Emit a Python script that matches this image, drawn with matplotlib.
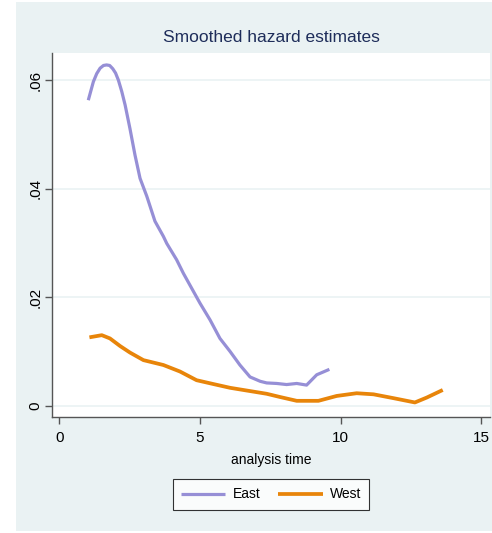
import matplotlib
matplotlib.use("Agg")
import matplotlib.pyplot as plt
from matplotlib.patches import Rectangle

plt.rcParams['font.family'] = ['Liberation Sans Narrow', 'Liberation Sans', 'DejaVu Sans']

east_t = [1.03, 1.21, 1.33, 1.45, 1.57, 1.68, 1.79, 1.90, 2.00, 2.10, 2.22, 2.34, 2.51, 2.69,
          2.87, 3.11, 3.40, 3.70, 3.82, 4.17, 4.41, 4.71, 5.00, 5.36, 5.71, 6.07, 6.42, 6.78,
          7.14, 7.37, 7.73, 8.08, 8.44, 8.79, 9.15, 9.60]
east_h = [0.0563, 0.0597, 0.0612, 0.0622, 0.0627, 0.0628, 0.0627, 0.0621, 0.0613, 0.0600,
          0.0579, 0.0554, 0.0511, 0.0462, 0.0419, 0.0386, 0.0340, 0.0312, 0.0299, 0.0269,
          0.0244, 0.0216, 0.0189, 0.0158, 0.0124, 0.0100, 0.0075, 0.0053, 0.0045, 0.0042,
          0.0041, 0.0039, 0.0041, 0.0038, 0.0057, 0.0067]

west_t = [1.07, 1.51, 1.80, 2.16, 2.51, 2.99, 3.70, 4.29, 4.88, 5.47, 6.07, 6.66, 7.37,
          7.85, 8.44, 9.21, 9.86, 10.57, 11.17, 11.87, 12.64, 13.06, 13.63]
west_h = [0.0126, 0.0130, 0.0124, 0.0110, 0.0098, 0.0084, 0.0075, 0.0063, 0.0047, 0.0040,
          0.0033, 0.0028, 0.0022, 0.0016, 0.0009, 0.0009, 0.0018, 0.0023, 0.0021, 0.0014,
          0.0006, 0.0015, 0.0029]

x_ticks = [0, 5, 10, 15]
x_tick_labels = ['0', '5', '10', '15']
y_ticks = [0, 0.02, 0.04, 0.06]
y_tick_labels = ['0', '.02', '.04', '.06']

W, H = 492, 533
fig = plt.figure(figsize=(W / 100, H / 100), dpi=100, facecolor='white')
bg = '#EAF2F3'
fig.patches.append(Rectangle((16 / W, 2 / H), (W - 16) / W, (531 - 2) / H,
                             transform=fig.transFigure, facecolor=bg, edgecolor='none', zorder=-10))

ax = fig.add_axes([52 / W, (H - 417) / H, 438 / W, 364 / H])
ax.set_facecolor('white')
ax.plot(east_t, east_h, color='#968FD6', lw=2.3, label='East', solid_capstyle='butt')
ax.plot(west_t, west_h, color='#E8850A', lw=2.7, label='West', solid_capstyle='butt')

ax.set_xlim(-0.26, 15.31)
ax.set_ylim(-0.00208, 0.0650)
ax.set_xticks(x_ticks)
ax.set_xticklabels(x_tick_labels, fontsize=11)
ax.set_yticks(y_ticks)
ax.set_yticklabels(y_tick_labels, fontsize=11, rotation=90, va='center')
ax.grid(axis='y', color=bg, lw=1.2)
ax.set_axisbelow(True)
for s in ['top', 'right']:
    ax.spines[s].set_visible(False)
for s in ['left', 'bottom']:
    ax.spines[s].set_color('#555555')
    ax.spines[s].set_linewidth(1.0)
ax.tick_params(direction='out', length=5, color='#555555', width=1.0, pad=5)
ax.tick_params(axis='y', pad=2)

ax.set_xlabel('analysis time', fontsize=10, labelpad=6)
fig.text(271 / W, 1 - 37 / H, 'Smoothed hazard estimates', ha='center', va='center',
         fontsize=12.5, color='#1E2D5A')

leg = fig.legend(loc='center', bbox_to_anchor=(271 / W, 1 - 494.5 / H), ncol=2,
                 frameon=True, fancybox=False, fontsize=10, handlelength=3.2,
                 handletextpad=0.5, columnspacing=1.3, borderpad=0.6, edgecolor='black')
leg.get_frame().set_linewidth(0.8)

fig.savefig('out.png', dpi=100, facecolor=fig.get_facecolor())
